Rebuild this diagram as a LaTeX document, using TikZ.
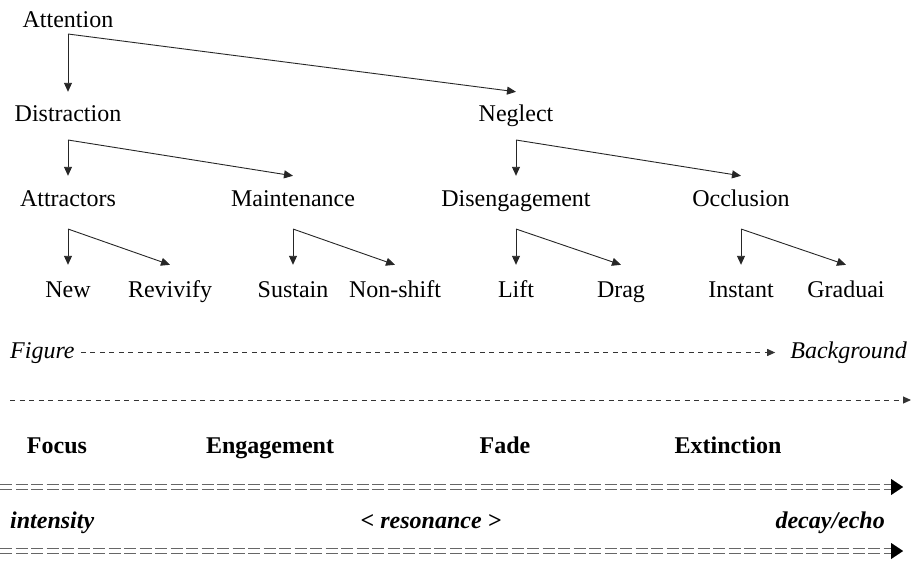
\documentclass[tikz,border=0pt]{standalone}
\usepackage{fontspec}
\setmainfont{Liberation Serif}
\usetikzlibrary{arrows.meta}
\begin{document}
\begin{tikzpicture}[x=1pt,y=-1pt,
  lbl/.style={font=\fontsize{24}{28}\selectfont, inner sep=0pt,
    text height=16pt, text depth=5pt, anchor=base},
  branch/.style={draw=black!85, line width=0.9pt,
    -{Triangle[length=9pt,width=8pt]}},
  dotarrow/.style={draw=black!80, line width=0.9pt, dash pattern=on 5pt off 4.5pt,
    -{Triangle[length=8pt,width=7pt]}},
  dblline/.style={draw=black!60, line width=1.2pt, double=white,
    double distance=3.2pt, dash pattern=on 12pt off 3.5pt},
  bigtip/.style={line width=0.1pt, -{Triangle[length=12pt,width=16pt]}},
]
\useasboundingbox (0,0) rectangle (917,560);

% ---- tree ----
\node[lbl] (att)  at (68,27)  {Attention};
\node[lbl] (dis)  at (68,121) {Distraction};
\node[lbl] (neg)  at (516,121) {Neglect};
\node[lbl] (attr) at (68,206) {Attractors};
\node[lbl] (main) at (293,206) {Maintenance};
\node[lbl] (dise) at (516,206) {Disengagement};
\node[lbl] (occ)  at (741,206) {Occlusion};
\node[lbl] (new)  at (68,297)  {New};
\node[lbl] (rev)  at (170,297) {Revivify};
\node[lbl] (sus)  at (293,297) {Sustain};
\node[lbl] (nsh)  at (395,297) {Non-shift};
\node[lbl] (lift) at (516,297) {Lift};
\node[lbl] (drag) at (621,297) {Drag};
\node[lbl] (inst) at (741,297) {Instant};
\node[lbl] (grad) at (846,297) {Graduai};

\draw[branch] ([yshift=-7pt]att.base) coordinate (k0) -- ([yshift=13pt]dis.north);
\draw[branch] (k0) -- ([yshift=13pt]neg.north);

\draw[branch] ([yshift=-19pt]dis.base) coordinate (k1) -- ([yshift=14pt]attr.north);
\draw[branch] (k1) -- ([yshift=14pt]main.north);
\draw[branch] ([yshift=-19pt]neg.base) coordinate (k2) -- ([yshift=14pt]dise.north);
\draw[branch] (k2) -- ([yshift=14pt]occ.north);

\draw[branch] ([yshift=-23pt]attr.base) coordinate (k3) -- ([yshift=16pt]new.north);
\draw[branch] (k3) -- ([yshift=16pt]rev.north);
\draw[branch] ([yshift=-23pt]main.base) coordinate (k4) -- ([yshift=16pt]sus.north);
\draw[branch] (k4) -- ([yshift=16pt]nsh.north);
\draw[branch] ([yshift=-23pt]dise.base) coordinate (k5) -- ([yshift=16pt]lift.north);
\draw[branch] (k5) -- ([yshift=16pt]drag.north);
\draw[branch] ([yshift=-23pt]occ.base) coordinate (k6) -- ([yshift=16pt]inst.north);
\draw[branch] (k6) -- ([yshift=16pt]grad.north);

% ---- figure / background ----
\node[lbl, anchor=base west, font=\fontsize{24}{28}\selectfont\itshape] (fig) at (10,358) {Figure};
\node[lbl, anchor=base east, font=\fontsize{24}{28}\selectfont\itshape] (bg) at (907,358) {Background};
\draw[dotarrow, shorten <=6pt, shorten >=15pt] (fig.east) -- (bg.west);

\coordinate (d1) at (10,400);
\coordinate (d2) at (911,400);
\draw[dotarrow] (d1) -- (d2);

% ---- stages ----
\node[lbl, font=\fontsize{24}{28}\selectfont\bfseries] (foc) at (57,453) {Focus};
\node[lbl, font=\fontsize{24}{28}\selectfont\bfseries] (eng) at (270,453) {Engagement};
\node[lbl, font=\fontsize{24}{28}\selectfont\bfseries] (fad) at (505,453) {Fade};
\node[lbl, font=\fontsize{24}{28}\selectfont\bfseries] (ext) at (728,453) {Extinction};

\coordinate (e1) at (0,487);
\coordinate (e2) at (903,487);
\draw[dblline] (e1) -- ([xshift=-11pt]e2);
\draw[bigtip] ([xshift=-11pt]e2) -- (e2);

\node[lbl, anchor=base west, font=\fontsize{24}{28}\selectfont\bfseries\itshape] (int) at (10,528) {intensity};
\node[lbl, font=\fontsize{24}{28}\selectfont\bfseries\itshape] (res) at (431,528) {< resonance >};
\node[lbl, anchor=base east, font=\fontsize{24}{28}\selectfont\bfseries\itshape] (dec) at (885,528) {decay/echo};

\coordinate (f1) at (0,551);
\coordinate (f2) at (903,551);
\draw[dblline] (f1) -- ([xshift=-11pt]f2);
\draw[bigtip] ([xshift=-11pt]f2) -- (f2);
\end{tikzpicture}
\end{document}
